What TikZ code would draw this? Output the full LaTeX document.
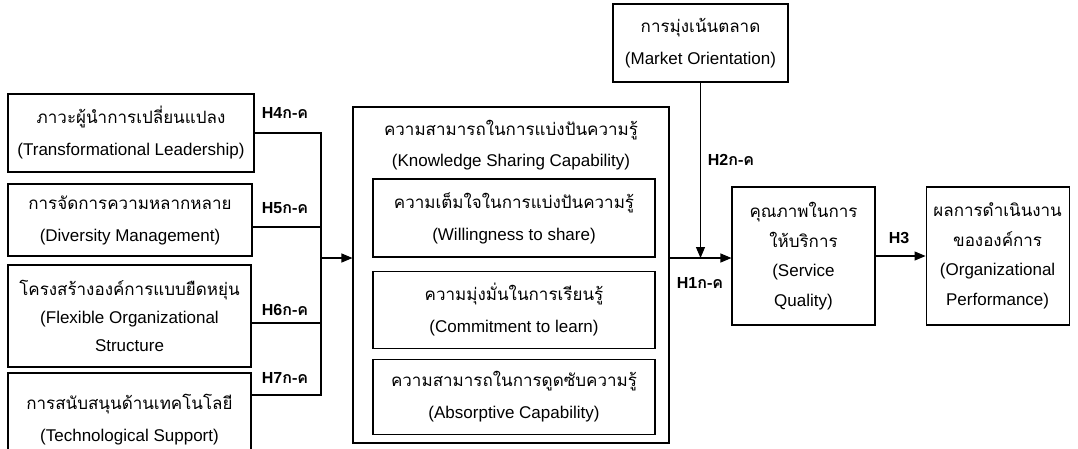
\documentclass[tikz,border=0pt]{standalone}
\usepackage{fontspec}
\setmainfont{Liberation Sans}
\newfontfamily\thaifont[Script=Thai]{Loma}
\newcommand{\thai}[1]{{\thaifont #1}}
\usetikzlibrary{arrows.meta, positioning}
\tikzset{box/.style={draw, align=center, inner sep=0pt},
  hyp/.style={font=\bfseries\fontsize{16}{18}\selectfont}}

\begin{document}
\begin{tikzpicture}[>={Triangle[length=11pt,width=9pt]}, x=1pt, y=-1pt, line width=1.1pt, every node/.style={font=\fontsize{17}{32}\selectfont}]
\useasboundingbox (0,0) rectangle (1078,448);
\node[box, minimum width=246, minimum height=78] (tl) at (131,133) {\thai{ภาวะผู้นำการเปลี่ยนแปลง}\\(Transformational Leadership)};
\node[box, minimum width=244, minimum height=72] (dm) at (130,220) {\thai{การจัดการความหลากหลาย}\\(Diversity Management)};
\node[box, minimum width=243, minimum height=102, font=\fontsize{17}{28}\selectfont] (fo) at (129.5,316) {\thai{โครงสร้างองค์การแบบยืดหยุ่น}\\(Flexible Organizational\\Structure};
\node[box, minimum width=243, minimum height=94] (ts) at (129.5,420) {\thai{การสนับสนุนด้านเทคโนโลยี}\\(Technological Support)};
\node[box, minimum width=316, minimum height=336] (ksc) at (511,275) {};
\node[align=center, font=\fontsize{17}{31}\selectfont] (kst) at (511,145) {\thai{ความสามารถในการแบ่งปันความรู้}\\(Knowledge Sharing Capability)};
\node[box, minimum width=282, minimum height=78] (wts) at (514,218) {\thai{ความเต็มใจในการแบ่งปันความรู้}\\(Willingness to share)};
\node[box, minimum width=282, minimum height=77, below=13pt of wts] (ctl) {\thai{ความมุ่งมั่นในการเรียนรู้}\\(Commitment to learn)};
\node[box, minimum width=282, minimum height=75, below=10pt of ctl] (abc) {\thai{ความสามารถในการดูดซับความรู้}\\(Absorptive Capability)};
\node[box, minimum width=175, minimum height=78] (mo) at (700.5,43) {\thai{การมุ่งเน้นตลาด}\\(Market Orientation)};
\node[box, minimum width=143, minimum height=138, font=\fontsize{17}{29.5}\selectfont] (sq) at (803.5,256) {\thai{คุณภาพในการ}\\\thai{ให้บริการ}\\(Service\\Quality)};
\node[box, minimum width=143, minimum height=138, font=\fontsize{17}{29.5}\selectfont, right=50pt of sq] (op) {\thai{ผลการดำเนินงาน}\\\thai{ขององค์การ}\\(Organizational\\Performance)};
\coordinate (jn) at (321,258);
\coordinate (mid) at (700.5,258);
\draw (tl.east) -| (jn);
\draw ([yshift=-7pt]dm.east) -| (jn);
\draw ([yshift=-7pt]fo.east) -| (jn);
\draw ([yshift=25pt]ts.east) -| (jn);
\draw[->] (jn) -- (jn -| ksc.west);
\draw[->] (ksc.east |- mid) -- (mid -| sq.west);
\draw[->] (mo.south) -- (mid);
\draw[->] (sq) -- (op);
\node[hyp] (h4) at (285,113) {H4\thai{ก-ค}};
\node[hyp] (h5) at (285,208) {H5\thai{ก-ค}};
\node[hyp] (h6) at (285,310) {H6\thai{ก-ค}};
\node[hyp] (h7) at (285,378) {H7\thai{ก-ค}};
\node[hyp] (h2) at (731,160) {H2\thai{ก-ค}};
\node[hyp] (h1) at (700,283) {H1\thai{ก-ค}};
\node[hyp] (h3) at (899,238) {H3};
\end{tikzpicture}
\end{document}
